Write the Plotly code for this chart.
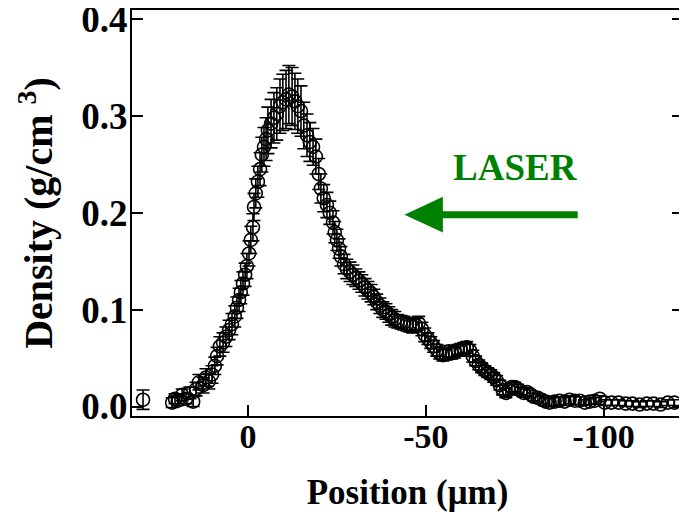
import plotly.graph_objects as go

position = [29.5, 21.3, 20.5, 19.7, 18.5, 17.4, 16.3, 15.4, 14.6, 13.8, 12.6, 11.8, 11.0, 10.1,
            9.3, 8.7, 7.9, 7.0, 6.2, 5.3, 4.5, 3.7, 3.1, 2.5, 2.0, 1.4, 0.8, 0.3,
            -0.3, -0.8, -1.4, -1.7, -2.2, -2.8, -3.4, -3.9, -4.5, -5.1, -5.6, -6.5, -7.3, -8.1,
            -9.0, -9.8, -10.7, -11.5, -12.4, -13.2, -14.0, -14.9, -15.7, -16.6, -17.4, -18.3,
            -19.1, -19.9, -20.5, -21.3, -22.2, -23.0, -23.9, -24.4, -25.0, -25.6, -26.1, -27.0,
            -27.8, -28.7, -29.5, -30.3, -31.2, -32.0, -32.9, -33.7, -34.6, -35.4, -36.2, -37.1,
            -37.9, -38.8, -39.6, -40.4, -41.3, -42.1, -43.0, -43.8, -44.7, -45.5, -46.3, -47.2,
            -48.0, -48.9, -49.7, -50.6, -51.4, -52.2, -53.1, -53.9, -54.8, -55.6, -56.5, -57.3,
            -58.1, -59.0, -59.8, -60.7, -61.5, -62.4, -63.2, -64.0, -64.9, -65.7, -66.6, -67.4,
            -68.3, -69.1, -69.9, -70.8, -71.6, -72.5, -73.3, -74.2, -75.0, -75.8, -76.7, -77.5,
            -78.4, -79.2, -80.3, -81.5, -82.6, -83.7, -84.8, -86.2, -87.6, -89.0, -90.4, -91.9,
            -93.3, -94.7, -96.1, -97.5, -98.9, -100.3, -102.2, -104.2, -106.2, -108.1, -110.1,
            -112.1, -114.0, -116.0, -118.0, -119.9]

density = [0.007, 0.004, 0.008, 0.006, 0.012, 0.008, 0.014, 0.005, 0.018, 0.025, 0.022, 0.030, 0.026, 0.033,
           0.042, 0.052, 0.062, 0.066, 0.072, 0.079, 0.085, 0.093, 0.102, 0.110, 0.118, 0.127, 0.136, 0.145,
           0.158, 0.172, 0.185, 0.206, 0.220, 0.232, 0.245, 0.260, 0.268, 0.276, 0.285, 0.292, 0.298, 0.302,
           0.310, 0.314, 0.317, 0.322, 0.320, 0.315, 0.310, 0.305, 0.290, 0.280, 0.273, 0.268,
           0.258, 0.240, 0.225, 0.215, 0.208, 0.200, 0.190, 0.180, 0.172, 0.163, 0.155, 0.147,
           0.142, 0.139, 0.136, 0.133, 0.130, 0.127, 0.123, 0.120, 0.117, 0.113, 0.108, 0.104,
           0.100, 0.098, 0.095, 0.092, 0.090, 0.088, 0.087, 0.086, 0.085, 0.084, 0.083, 0.084,
           0.086, 0.080, 0.074, 0.070, 0.066, 0.062, 0.058, 0.055, 0.053, 0.054, 0.057, 0.055,
           0.056, 0.058, 0.059, 0.060, 0.061, 0.058, 0.052, 0.047, 0.043, 0.040, 0.037, 0.035,
           0.033, 0.030, 0.027, 0.022, 0.017, 0.014, 0.017, 0.020, 0.020, 0.018, 0.016, 0.014,
           0.015, 0.013, 0.010, 0.009, 0.007, 0.005, 0.004, 0.005, 0.006, 0.005, 0.007, 0.006,
           0.006, 0.004, 0.005, 0.006, 0.008, 0.004, 0.004, 0.004, 0.003, 0.003, 0.002,
           0.003, 0.003, 0.002, 0.004, 0.004]

error = [0.010, 0.005, 0.005, 0.005, 0.006, 0.005, 0.006, 0.005, 0.007, 0.008, 0.008, 0.009, 0.008, 0.009,
         0.009, 0.009, 0.010, 0.010, 0.010, 0.010, 0.011, 0.011, 0.011, 0.012, 0.012, 0.012, 0.012, 0.013,
         0.013, 0.014, 0.014, 0.014, 0.015, 0.016, 0.017, 0.018, 0.020, 0.022, 0.024, 0.025, 0.026, 0.027,
         0.028, 0.029, 0.030, 0.030, 0.030, 0.029, 0.028, 0.026, 0.024, 0.022, 0.020, 0.019,
         0.018, 0.016, 0.015, 0.014, 0.013, 0.012, 0.012, 0.011, 0.011, 0.010, 0.010, 0.010,
         0.010, 0.010, 0.010, 0.009, 0.009, 0.009, 0.009, 0.009, 0.009, 0.008, 0.008, 0.008,
         0.008, 0.008, 0.008, 0.008, 0.008, 0.007, 0.007, 0.007, 0.007, 0.007, 0.007, 0.007,
         0.007, 0.007, 0.007, 0.006, 0.006, 0.006, 0.006, 0.006, 0.006, 0.006, 0.006, 0.006,
         0.006, 0.006, 0.006, 0.006, 0.006, 0.006, 0.006, 0.005, 0.005, 0.005, 0.005, 0.005,
         0.005, 0.005, 0.005, 0.005, 0.005, 0.005, 0.005, 0.005, 0.005, 0.005, 0.004, 0.004,
         0.004, 0.004, 0.004, 0.004, 0.004, 0.004, 0.004, 0.004, 0.004, 0.004, 0.004, 0.004,
         0.004, 0.003, 0.003, 0.003, 0.003, 0.003, 0.003, 0.003, 0.003, 0.003, 0.003,
         0.003, 0.003, 0.003, 0.003, 0.003]

x_ticks = [0, -50, -100]
x_tick_labels = ["0", "-50", "-100"]
y_ticks = [0.0, 0.1, 0.2, 0.3, 0.4]
y_tick_labels = ["0.0", "0.1", "0.2", "0.3", "0.4"]

FONT = "Liberation Serif"
GREEN = "#008000"

fig = go.Figure()
fig.add_trace(go.Scatter(
    x=position, y=density, mode="markers",
    marker=dict(symbol="circle-open", size=13, color="black", line=dict(width=1.6, color="black")),
    error_y=dict(type="data", array=error, visible=True, color="black", thickness=1.6, width=6.5),
    showlegend=False,
))

# LASER arrow (shaft + head)
fig.add_shape(type="line", xref="x", yref="y", x0=-92.7, y0=0.198, x1=-53.0, y1=0.198,
              line=dict(color=GREEN, width=7))
fig.add_shape(type="path", xref="x", yref="y",
              path="M -44.0,0.198 L -54.8,0.2165 L -54.8,0.1795 Z",
              fillcolor=GREEN, line=dict(color=GREEN, width=0))
fig.add_annotation(
    x=-75.2, y=0.247, xref="x", yref="y", text="<b>LASER</b>", showarrow=False,
    font=dict(family=FONT, size=37, color=GREEN),
)

axis_common = dict(
    showline=True, linecolor="black", linewidth=2, ticks="inside", ticklen=11,
    tickwidth=2, tickcolor="black", showgrid=False, zeroline=False, automargin=False,
    ticklabeloverflow="allow",
)

fig.update_xaxes(
    range=[32.6, -122.3], tickvals=x_ticks, ticktext=["<b>%s</b>" % t for t in x_tick_labels], mirror=True,
    tickfont=dict(family=FONT, size=34, color="black"), ticklabelstandoff=-11,
    title=dict(text="<b>Position (μm)</b>", font=dict(family=FONT, size=35, color="black"), standoff=26),
    **axis_common,
)
fig.update_yaxes(
    range=[-0.0098, 0.4093], tickvals=y_ticks, ticktext=["<b>%s</b>" % t for t in y_tick_labels], mirror="ticks",
    tickfont=dict(family=FONT, size=37, color="black"), ticklabelstandoff=-5,
    title=dict(text="<b>Density (g/cm <sup>3</sup>)</b>", font=dict(family=FONT, size=40, color="black"), standoff=16),
    **axis_common,
)

fig.update_layout(
    width=679, height=504, margin=dict(l=124, r=4, t=2, b=96),
    plot_bgcolor="white", paper_bgcolor="white",
    font=dict(family=FONT, color="black"),
)

fig.write_html("out.html")
